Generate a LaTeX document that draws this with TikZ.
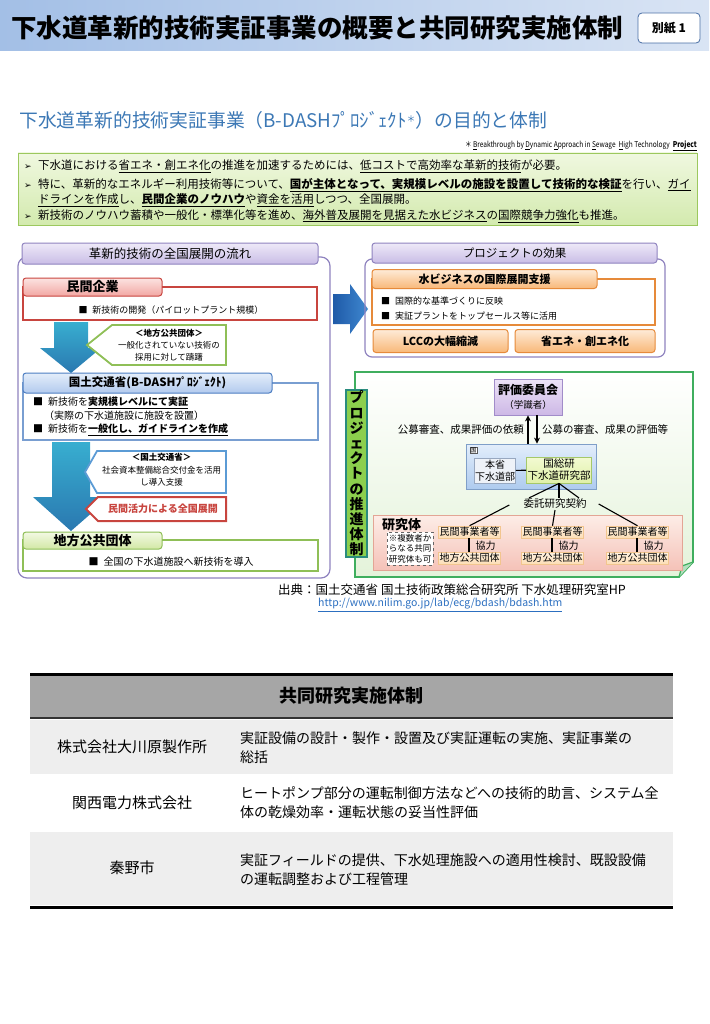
\documentclass[tikz,border=0pt]{standalone}
\usepackage{fontspec}
\usepackage{graphicx}
\setmainfont{Noto Sans CJK JP}
\newfontfamily\symfont{DejaVu Sans}
\usetikzlibrary{arrows.meta,calc,positioning}

\newcommand{\fsz}[2]{\fontsize{#1}{#2}\selectfont}
\newcommand{\bul}{\makebox[14pt][l]{\symfont\fsz{9}{11}➢}}
\newcommand{\ulb}[1]{\underline{\textbf{#1}}}

\definecolor{hdrL}{HTML}{A3BFE6}
\definecolor{hdrR}{HTML}{D9E4F4}
\definecolor{hdrbox}{HTML}{4A6FA5}
\definecolor{ttlblue}{HTML}{3C78B5}
\definecolor{aimB}{HTML}{9CC85E}
\definecolor{aimL}{HTML}{F0F8E0}
\definecolor{aimD}{HTML}{D3EAAE}
\definecolor{purp}{HTML}{8F83BF}
\definecolor{purpL}{HTML}{EEE9F8}
\definecolor{purpD}{HTML}{C9BDE6}
\definecolor{redB}{HTML}{C8453F}
\definecolor{pinkL}{HTML}{FCE3E1}
\definecolor{pinkD}{HTML}{F2A7A3}
\definecolor{blueB}{HTML}{4D7EC2}
\definecolor{blueL}{HTML}{E4EEFA}
\definecolor{blueD}{HTML}{B2CAEE}
\definecolor{greenB}{HTML}{8FBF57}
\definecolor{greenL}{HTML}{F3F9E4}
\definecolor{greenD}{HTML}{D2E8A5}
\definecolor{orgB}{HTML}{E68A3A}
\definecolor{orgL}{HTML}{FEEBD8}
\definecolor{orgD}{HTML}{F8B878}
\definecolor{arrT}{HTML}{38AED0}
\definecolor{arrB}{HTML}{2A78B0}
\definecolor{callB}{HTML}{5B9BD5}
\definecolor{bigarrL}{HTML}{1F5AA8}
\definecolor{bigarrR}{HTML}{3F88D0}
\definecolor{projG}{HTML}{3FAE5E}
\definecolor{projF}{HTML}{E4F3DA}
\definecolor{vertG}{HTML}{8CCF4D}
\definecolor{vertB}{HTML}{2A8C7E}
\definecolor{hyoL}{HTML}{EDE3F7}
\definecolor{hyoD}{HTML}{CDB8E6}
\definecolor{hyoB}{HTML}{A18CC9}
\definecolor{kuniL}{HTML}{E3EEFB}
\definecolor{kuniD}{HTML}{AECBEF}
\definecolor{kuniB}{HTML}{7F9FC8}
\definecolor{honL}{HTML}{EEF2F8}
\definecolor{honB}{HTML}{98A8C0}
\definecolor{kokuL}{HTML}{F3FAD2}
\definecolor{kokuD}{HTML}{DFF0A8}
\definecolor{kokuB}{HTML}{A5C86A}
\definecolor{kenL}{HTML}{FDEDE7}
\definecolor{kenD}{HTML}{F5C2B8}
\definecolor{kenB}{HTML}{E3A595}
\definecolor{minL}{HTML}{FFF3E3}
\definecolor{minD}{HTML}{FCDDB5}
\definecolor{minB}{HTML}{F2C58E}
\definecolor{tblHead}{HTML}{A6A6A6}
\definecolor{tblRow}{HTML}{EEEEEE}
\definecolor{linkB}{HTML}{2C6FC0}

\begin{document}
\begin{tikzpicture}[x=1pt, y=-1pt,
  tabbox/.style={rounded corners=3, line width=1, inner sep=0},
  tabpurp/.style={tabbox, draw=purp, top color=purpL, bottom color=purpD, font=\fsz{12.5}{15}},
  tabred/.style={tabbox, draw=redB, top color=pinkL, bottom color=pinkD, font=\bfseries\fsz{13}{15}},
  tabblue/.style={tabbox, draw=blueB, top color=blueL, bottom color=blueD, font=\bfseries\fsz{11.5}{14}},
  tabgreen/.style={tabbox, draw=greenB, top color=greenL, bottom color=greenD, font=\bfseries\fsz{13}{15}},
  taborg/.style={tabbox, draw=orgB, top color=orgL, bottom color=orgD, font=\bfseries\fsz{11}{13}},
  bodyred/.style={draw=redB, line width=1.2, fill=white},
  bodyblue/.style={draw=blueB!75, line width=2, fill=white},
  bodygreen/.style={draw=greenB, line width=1.2, fill=white},
  bodyorg/.style={draw=orgB, line width=1.2, fill=white},
  bodytxt/.style={anchor=west, inner sep=0, font=\fsz{10}{12}},
  aimtxt/.style={anchor=west, inner sep=0, font=\fsz{11.5}{13}},
  calltxt/.style={inner sep=0, align=center, font=\fsz{8.5}{12}},
  callgreen/.style={draw=greenB, line width=1.8, fill=white},
  callblue/.style={draw=callB, line width=1.8, fill=white},
  callred/.style={draw=redB, line width=2, fill=white},
  smalltxt/.style={inner sep=0, font=\fsz{10.5}{12}},
  minbox/.style={draw=minB, line width=0.5, top color=minL, bottom color=minD, inner sep=0,
    minimum width=62, minimum height=12, font=\fsz{10}{11}},
  tbltxt/.style={inner sep=0, align=left, font=\fsz{14}{19}}]
\useasboundingbox (0,0) rectangle (709,1024);

% --- Header band ---
\shade[left color=hdrL, right color=hdrR] (0,0) rectangle (709,51);
\node[anchor=west, inner sep=0, font=\bfseries\fsz{25.5}{28}] (hdrtitle) at (11,28) {下水道革新的技術実証事業の概要と共同研究実施体制};
\node[draw=hdrbox, fill=white, rounded corners=4, line width=0.8, minimum width=62, minimum height=30, inner sep=0, font=\bfseries\fsz{12}{14}] (besshi) at (669,28) {別紙 1};

% --- Section title ---
\node[anchor=west, inner sep=0, text=ttlblue, font=\fsz{18.8}{22}] (subtitle) at (19,120) {下水道革新的技術実証事業（B-DASHﾌﾟﾛｼﾞｪｸﾄ\raisebox{5pt}{\fsz{9}{9}＊}）の目的と体制};
\node[anchor=east, inner sep=0, font=\fsz{8}{10}] (acronym) at (697,146) {\scalebox{0.82}[1]{＊ \underline{B}reakthrough by \underline{D}ynamic \underline{A}pproach in \underline{S}ewage \ \underline{H}igh Technology \ \underline{\textbf{Project}}}};

% --- Aims ---
\path[draw=aimB, line width=0.8, top color=aimL, bottom color=aimD] (18,153) rectangle (697,225);
\node[aimtxt] (aim1) at (24,166) {\bul 下水道における\underline{省エネ・創エネ化}の推進を加速するためには、\underline{低コストで高効率な革新的技術}が必要。};
\node[aimtxt] (aim2) at (24,185) {\bul 特に、革新的なエネルギー利用技術等について、\ulb{国が主体となって、実規模レベルの施設を設置して技術的な検証}を行い、\underline{ガイ}};
\node[aimtxt] (aim3) at (38,200) {\underline{ドラインを作成}し、\ulb{民間企業のノウハウ}や\underline{資金を活用}しつつ、全国展開。};
\node[aimtxt] (aim4) at (24,216) {\bul 新技術のノウハウ蓄積や一般化・標準化等を進め、\underline{海外普及展開を見据えた水ビジネス}の\underline{国際競争力強化}も推進。};

% --- Left: nationwide roll-out flow ---
\draw[purp, line width=1.2, rounded corners=9] (18,257) rectangle (330,578);
\node[tabpurp, minimum width=296, minimum height=21] (flowtab) at (170,253.5) {革新的技術の全国展開の流れ};

\draw[bodyred] (23,287) rectangle (317,320);
\node[tabred, minimum width=139, minimum height=18] (minkantab) at (92.5,287) {民間企業};
\node[bodytxt, anchor=center, font=\fsz{9}{12}] (minkantxt) at (171,310) {■\hspace{5pt}新技術の開発（パイロットプラント規模）};

\path[top color=arrT, bottom color=arrB] (54,322) -- (88,322) -- (88,348) -- (101,348) -- (71,373) -- (40,348) -- (54,348) -- cycle;
\path[callgreen] (87,345) -- (112,325) -- (226,325) -- (226,365) -- (112,365) -- cycle;
\node[calltxt] (calllocal) at (169,345) {\textbf{＜地方公共団体＞}\\一般化されていない技術の\\採用に対して躊躇};

\draw[bodyblue] (23,383) rectangle (318,440);
\node[tabblue, minimum width=249, minimum height=20] (mlittab) at (147.5,383) {国土交通省(B-DASHﾌﾟﾛｼﾞｪｸﾄ)};
\node[bodytxt] (mlit1) at (33,403) {■\hspace{5pt}新技術を\ulb{実規模レベルにて実証}};
\node[bodytxt] (mlit2) at (44,416) {（実際の下水道施設に施設を設置）};
\node[bodytxt] (mlit3) at (33,430) {■\hspace{5pt}新技術を\ulb{一般化し、ガイドラインを作成}};

\path[top color=arrT, bottom color=arrB] (52,442) -- (90,442) -- (90,497) -- (110,497) -- (71,531) -- (33,497) -- (52,497) -- cycle;
\path[callblue] (85,472) -- (97,451) -- (226,451) -- (226,493) -- (97,493) -- cycle;
\node[calltxt, font=\fsz{8.5}{12.5}] (callmlit) at (161.5,470) {\textbf{＜国土交通省＞}\\社会資本整備総合交付金を活用\\し導入支援};
\path[callred] (86,509) -- (98,497) -- (226,497) -- (226,521) -- (98,521) -- cycle;
\node[calltxt, text=redB, font=\bfseries\fsz{10}{12}] (callpriv) at (163,509) {民間活力による全国展開};

\draw[bodygreen] (23,540) rectangle (318,571);
\node[tabgreen, minimum width=139, minimum height=17] (localtab) at (92.5,540.5) {地方公共団体};
\node[bodytxt, anchor=center] (localtxt) at (171,562) {■\hspace{5pt}全国の下水道施設へ新技術を導入};

% --- Big arrow to effects ---
\path[left color=bigarrL, right color=bigarrR] (333,294) -- (350,294) -- (350,284) -- (368,309) -- (350,334) -- (350,324) -- (333,324) -- cycle;

% --- Right top: project effects ---
\draw[purp, line width=1.2, rounded corners=7] (365,259) rectangle (665,357);
\node[tabpurp, minimum width=285, minimum height=20, font=\fsz{11.5}{14}] (efftab) at (514.5,253) {プロジェクトの効果};
\draw[bodyorg] (372,279) rectangle (655,325);
\node[taborg, minimum width=225, minimum height=19] (biztab) at (484.5,279) {水ビジネスの国際展開支援};
\node[bodytxt, font=\fsz{9}{11}] (biz1) at (381,301) {■\hspace{5pt}国際的な基準づくりに反映};
\node[bodytxt, font=\fsz{9}{11}] (biz2) at (381,316) {■\hspace{5pt}実証プラントをトップセールス等に活用};
\node[taborg, minimum width=135, minimum height=23] (lcctab) at (440.5,341) {LCCの大幅縮減};
\node[taborg, minimum width=140, minimum height=23] (enetab) at (585,341) {省エネ・創エネ化};

% --- Right bottom: promotion structure ---
\path[draw=projG, line width=1.8, top color=white, bottom color=projF] (355,372) -- (693,372) -- (693,562) -- (679,577) -- (355,577) -- cycle;
\path[draw=projG, line width=1.2, fill=projG!40] (693,562) -- (682,566) -- (679,577);
\node[draw=vertB, line width=1.2, fill=vertG, inner sep=0, minimum width=21, minimum height=167, align=center, font=\bfseries\fsz{14}{15.2}] (suishin) at (356.5,473.5) {プ\\ロ\\ジ\\ェ\\ク\\ト\\の\\推\\進\\体\\制};

\node[draw=hyoB, line width=0.8, top color=hyoL, bottom color=hyoD, minimum width=68, minimum height=36, inner sep=0, align=center, font=\fsz{9.5}{14}] (hyoka) at (528,397) {{\bfseries\fsz{12}{14}評価委員会}\\（学識者）};
\node[draw=kuniB, line width=0.8, top color=kuniL, bottom color=kuniD, minimum width=130, minimum height=45] (kuni) at (531,466.5) {};
\node[draw=gray!70!black, fill=white, inner sep=0.6, font=\fsz{6}{7}, anchor=north west] (kunilbl) at ([xshift=4, yshift=-3]kuni.north west) {国};
\node[draw=honB, line width=0.8, fill=honL, minimum width=41, minimum height=25, inner sep=0, align=center, font=\fsz{10}{12}] (honsho) at (495,470.5) {本省\\下水道部};
\node[draw=kokuB, line width=0.8, top color=kokuL, bottom color=kokuD, minimum width=65, minimum height=26, inner sep=0, align=center, font=\fsz{10.5}{12}] (kokusoken) at (559,470) {国総研\\下水道研究部};
\draw[line width=1.1] (honsho) -- (kokusoken);

\draw[-{Stealth[length=6,width=6]}, line width=1.6] (hyoka.south |- kuni.north) -- (hyoka.south);
\draw[-{Stealth[length=6,width=6]}, line width=1.6] ([xshift=9]hyoka.south) -- ([xshift=9]hyoka.south |- kuni.north);
\node[smalltxt, anchor=east] (reqlbl) at (524,430) {公募審査、成果評価の依頼};
\node[smalltxt, anchor=west] (evallbl) at (542,430) {公募の審査、成果の評価等};

\node[smalltxt, inner sep=1] (itaku) at (555,504) {委託研究契約};
\draw[line width=1.1] (kokusoken.south) -- ([xshift=-26]itaku.north);
\draw[line width=1.1] (kokusoken.south) -- (kokusoken.south |- itaku.north);
\draw[line width=1.1] (kokusoken.south) -- ([xshift=24]itaku.north);

\node[draw=kenB, line width=0.8, top color=kenL, bottom color=kenD, minimum width=309, minimum height=55] (kenkyutai) at (527.5,542.5) {};
\node[anchor=west, inner sep=0, font=\bfseries\fsz{13}{15}] (kenlbl) at (382,525) {研究体};
\node[draw=gray!80!black, dashed, fill=white, minimum width=46, minimum height=33, inner sep=0, align=center, font=\fsz{8.5}{10.5}] (note) at (410,548.5) {※複数者か\\らなる共同\\研究体も可};
\foreach \cx/\nm in {469.5/a, 552.5/b, 637.5/c} {
  \node[minbox] (min\nm) at (\cx,532) {民間事業者等};
  \node[minbox] (loc\nm) at (\cx,558) {地方公共団体};
  \draw[line width=1.2] ([xshift=-0.5]min\nm.south) -- ([xshift=-0.5]loc\nm.north);
  \node[anchor=west, inner sep=0, font=\fsz{10}{11}] (kyo\nm) at (\cx+6,545.5) {協力};
}
\draw[line width=1.1] ($(itaku.west)+(-13,1)$) -- (mina.north);
\draw[line width=1.1] (itaku.south) -- (minb.north);
\draw[line width=1.1] ($(itaku.east)+(11,0)$) -- (minc.north);

% --- Source ---
\node[anchor=west, inner sep=0, font=\fsz{12.5}{15}] (source) at (278,590) {出典：国土交通省 国土技術政策総合研究所 下水処理研究室HP};
\node[anchor=west, inner sep=0, text=linkB, font=\fsz{10.5}{12}] (srcurl) at (318,605) {\underline{http://www.nilim.go.jp/lab/ecg/bdash/bdash.htm}};

% --- Joint research table ---
\fill[tblHead] (30,675) rectangle (673,717);
\draw[line width=3] (30,674) -- (673,674);
\node[font=\bfseries\fsz{18}{20}] (tblhead) at (351.5,696) {共同研究実施体制};
\draw[line width=2, black!80] (30,718) -- (673,718);
\fill[tblRow] (30,720) rectangle (673,774);
\fill[tblRow] (30,832) rectangle (673,905);
\draw[line width=3] (30,907) -- (673,907);

\node[tbltxt, font=\fsz{15}{19}] (firm1) at (132,747) {株式会社大川原製作所};
\node[tbltxt, anchor=west] (role1) at (240,747.5) {実証設備の設計・製作・設置及び実証運転の実施、実証事業の\\総括};
\node[tbltxt, font=\fsz{15}{19}] (firm2) at (132,803) {関西電力株式会社};
\node[tbltxt, anchor=west] (role2) at (240,802.5) {ヒートポンプ部分の運転制御方法などへの技術的助言、システム全\\体の乾燥効率・運転状態の妥当性評価};
\node[tbltxt, font=\fsz{15}{19}] (firm3) at (132,868) {秦野市};
\node[tbltxt, anchor=west] (role3) at (240,869.5) {実証フィールドの提供、下水処理施設への適用性検討、既設設備\\の運転調整および工程管理};
\end{tikzpicture}
\end{document}
